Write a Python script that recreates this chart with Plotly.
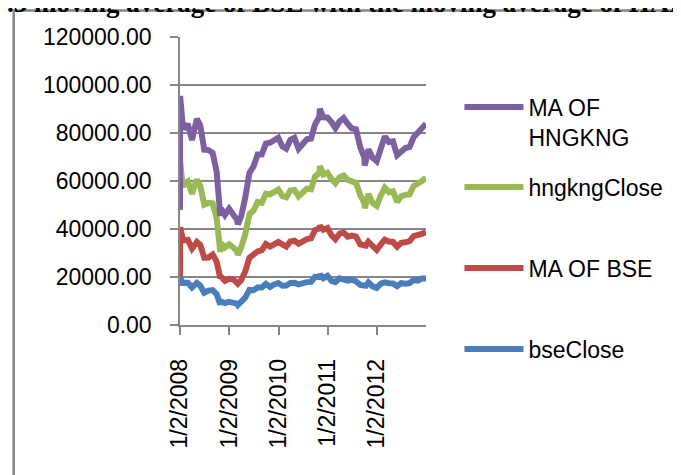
import plotly.graph_objects as go

# ---- data ----
dates = [
    "2008-01-02", "2008-01-03", "2008-01-22", "2008-01-31", "2008-02-29", "2008-03-31",
    "2008-04-30", "2008-05-06", "2008-05-31", "2008-06-30", "2008-07-31", "2008-08-31",
    "2008-09-30", "2008-10-27", "2008-10-31", "2008-11-30", "2008-12-31",
    "2009-01-31", "2009-02-28", "2009-03-06", "2009-03-31", "2009-04-30", "2009-05-31",
    "2009-06-30", "2009-07-31", "2009-08-31", "2009-09-30", "2009-10-31", "2009-11-30",
    "2009-12-31",
    "2010-01-31", "2010-02-28", "2010-03-31", "2010-04-30", "2010-05-31", "2010-06-30",
    "2010-07-31", "2010-08-31", "2010-09-30", "2010-10-31", "2010-11-05", "2010-11-30",
    "2010-12-31",
    "2011-01-31", "2011-02-28", "2011-03-31", "2011-04-30", "2011-05-31", "2011-06-30",
    "2011-07-31", "2011-08-31", "2011-09-30", "2011-10-04", "2011-10-31", "2011-11-30",
    "2011-12-31",
    "2012-01-31", "2012-02-29", "2012-03-31", "2012-04-30", "2012-05-31", "2012-06-30",
    "2012-07-31", "2012-08-31", "2012-09-30", "2012-10-31", "2012-11-30", "2012-12-31",
]

bse_close = [
    20465, 20345, 16730, 17649, 17579, 15644,
    17287, 17490, 16416, 13462, 14356, 14565,
    12860, 8510, 9788, 9093, 9647,
    9424, 8892, 8325, 9709, 11403, 14625,
    14494, 15670, 15667, 17127, 15896, 16926,
    17465,
    16358, 16430, 17528, 17559, 16945, 17701,
    17868, 17971, 20069, 20032, 21005, 19521,
    20509,
    18328, 17823, 19445, 19136, 18503, 18846,
    18197, 16676, 16454, 15792, 17705, 16123,
    15455,
    17194, 17753, 17404, 17319, 16219, 17430,
    17236, 17430, 18763, 18505, 19340, 19427,
]

ma_bse = [
    0, 20400, 19200, 17600, 17900, 16200,
    16800, 17100, 17000, 14600, 13800, 14800,
    13600, 10900, 10400, 9300, 9600,
    9600, 9200, 8900, 9000, 10900, 13400,
    14800, 15000, 15500, 16600, 16800, 16400,
    17100,
    17200, 16200, 17300, 17600, 16900, 17400,
    17900, 18100, 19500, 20200, 20300, 20200,
    19900,
    19000, 17900, 18600, 19400, 18300, 18400,
    18600, 16900, 16800, 16600, 17000, 16800,
    15800,
    16400, 17800, 17400, 17300, 16400, 16800,
    17200, 17500, 18300, 18700, 18600, 19400,
]

hngkng_close = [
    27560, 27300, 21757, 23456, 24332, 22849,
    25755, 25900, 24533, 22102, 22731, 21261,
    18016, 11016, 13969, 13888, 14387,
    13278, 12811, 11921, 13576, 15521, 18171,
    18378, 20573, 19724, 20955, 21752, 21821,
    21872,
    20122, 20608, 21239, 21108, 19765, 20128,
    21030, 20536, 22359, 23096, 24876, 23007,
    23035,
    23447, 23338, 23528, 23720, 23684, 22398,
    22440, 20535, 17592, 16250, 19864, 17989,
    18434,
    20390, 21680, 20556, 21094, 18630, 19441,
    19796, 19482, 20840, 21642, 22030, 22657,
]

ma_hngkng = [
    0, 27400, 25400, 23000, 23900, 22400,
    24600, 25400, 25300, 22900, 22000, 21100,
    19400, 15000, 14500, 13600, 14800,
    13700, 13000, 12800, 13000, 15200, 17200,
    18300, 19800, 20200, 20900, 21500, 22200,
    21600,
    20700, 20200, 21100, 21700, 19800, 19900,
    20600, 21100, 21600, 23300, 23900, 23800,
    23000,
    23700, 23000, 23300, 24000, 23300, 22200,
    22300, 20000, 19000, 17800, 18600, 18800,
    18500,
    19700, 21300, 20900, 20800, 19500, 18900,
    19500, 19800, 20300, 21300, 21900, 22400,
]

series_names = ["bseClose", "MA OF BSE", "hngkngClose", "MA OF<br>HNGKNG"]
series_values = [bse_close, ma_bse, hngkng_close, ma_hngkng]
series_colors = ["#4A7EBB", "#BE4B48", "#98B954", "#7D60A0"]

tick_dates = ["2008-01-02", "2009-01-02", "2010-01-02", "2011-01-02", "2012-01-02"]
tick_labels = ["1/2/2008", "1/2/2009", "1/2/2010", "1/2/2011", "1/2/2012"]

title_text = "Chart.3 moving average of BSE with the moving average of HANGSENG"

# ---- layout geometry ----
# the page body has an 8px margin, so figure pixels = page pixels - 8
OFF = 8
W, H = 673, 467
PLOT_L, PLOT_R, PLOT_T, PLOT_B = 180, 430, 37, 325   # page pixels
ML, MR = PLOT_L - OFF, W - (PLOT_R - OFF)
MT, MB = PLOT_T - OFF, H - (PLOT_B - OFF)
PW, PH = PLOT_R - PLOT_L, PLOT_B - PLOT_T


def px_x(px):
    return (px - PLOT_L) / PW


def px_y(py):
    return (PLOT_B - py) / PH


FONT = "Liberation Sans, Arial, sans-serif"
GRID = "#868686"

fig = go.Figure()

legend_ids = ["legend4", "legend3", "legend2", "legend"]
for name, vals, col, lg in zip(series_names, series_values, series_colors, legend_ids):
    fig.add_trace(go.Scatter(
        x=dates, y=vals, name=name, mode="lines",
        stackgroup="one", fill="none",
        line=dict(color=col, width=6),
        legend=lg, hoverinfo="x+y+name",
    ))

legend_common = dict(
    xanchor="left", yanchor="middle", x=px_x(464),
    font=dict(family=FONT, size=23, color="#000000"),
    bgcolor="rgba(0,0,0,0)", borderwidth=0, valign="top", itemwidth=59,
)

fig.update_layout(
    width=W, height=H,
    margin=dict(l=ML, r=MR, t=MT, b=MB, pad=0),
    paper_bgcolor="white", plot_bgcolor="white",
    font=dict(family=FONT, size=23, color="#000000"),
    showlegend=True,
    legend=dict(legend_common, y=px_y(122)),
    legend2=dict(legend_common, y=px_y(187)),
    legend3=dict(legend_common, y=px_y(268)),
    legend4=dict(legend_common, y=px_y(349)),
    xaxis=dict(
        type="date", range=["2008-01-02", "2012-12-31"],
        tickmode="array", tickvals=tick_dates, ticktext=tick_labels,
        tickangle=-90, ticks="outside", ticklen=8, tickwidth=1.5, tickcolor=GRID,
        showline=True, linecolor=GRID, linewidth=1.5,
        showgrid=False, zeroline=False, ticklabelstandoff=15,
        tickfont=dict(family=FONT, size=23, color="#000000"),
    ),
    yaxis=dict(
        range=[0, 120000], tickmode="linear", tick0=0, dtick=20000,
        tickformat=".2f", ticks="outside", ticklen=8, tickwidth=1.5, tickcolor=GRID,
        showline=True, linecolor=GRID, linewidth=1.5,
        showgrid=True, gridcolor=GRID, gridwidth=1.5, zeroline=False,
        ticklabelstandoff=14,
        tickfont=dict(family=FONT, size=23, color="#000000"),
    ),
    shapes=[dict(
        type="rect", xref="paper", yref="paper", layer="above",
        x0=px_x(11), x1=px_x(720), y0=px_y(520), y1=px_y(10.5),
        line=dict(color="#878787", width=2.5), fillcolor="rgba(0,0,0,0)",
    )],
    annotations=[dict(
        text=title_text, xref="paper", yref="paper",
        x=px_x(-68), y=px_y(3), xanchor="left", yanchor="middle",
        showarrow=False,
        font=dict(family="Liberation Serif, Times New Roman, serif", size=27,
                  color="#000000", weight="bold"),
    )],
)

fig.write_html("out.html")
